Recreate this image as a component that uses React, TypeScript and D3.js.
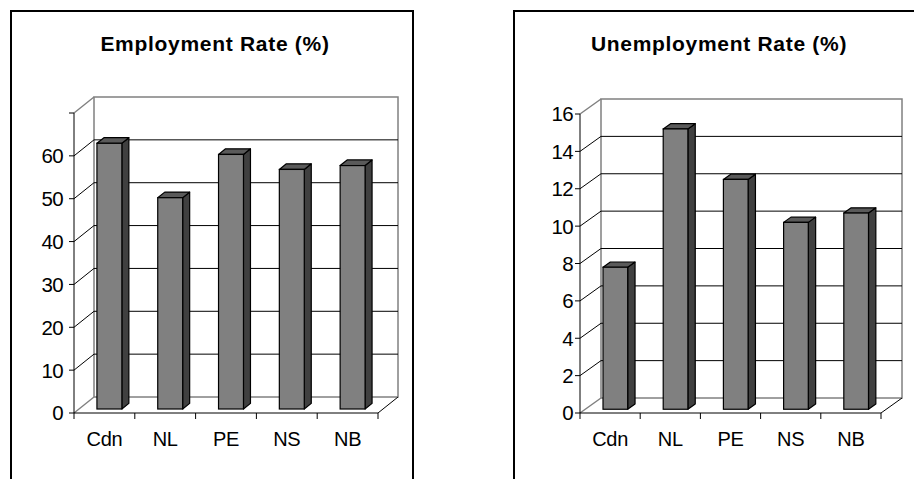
import React from "react";
import * as d3 from "d3";

const categories = ["Cdn", "NL", "PE", "NS", "NB"];
const employmentValues = [62, 49.3, 59.4, 55.9, 56.8];
const unemploymentValues = [7.6, 15.0, 12.3, 10.0, 10.5];
const employmentTicks = [0, 10, 20, 30, 40, 50, 60, 70];
const employmentTickLabels = ["0", "10", "20", "30", "40", "50", "60", ""];
const unemploymentTicks = [0, 2, 4, 6, 8, 10, 12, 14, 16];
const unemploymentTickLabels = ["0", "2", "4", "6", "8", "10", "12", "14", "16"];

const FONT = "Arial, 'Liberation Sans', sans-serif";

type ChartProps = {
  title: string;
  values: number[];
  ticks: number[];
  tickLabels: string[];
  box: { x: number; y: number; w: number; h: number };
  titleX: number;
  x0: number;
  x1: number;
  yBase: number;
  yTop: number;
  dx: number;
  dy: number;
  labelGap: number;
};

function Chart3D(p: ChartProps) {
  const max = p.ticks[p.ticks.length - 1];
  const y = d3.scaleLinear().domain([0, max]).range([p.yBase, p.yTop]);
  const x = d3
    .scaleBand<string>()
    .domain(categories)
    .range([p.x0, p.x1])
    .paddingInner(0.59)
    .paddingOuter(0.295);
  const step = x.step();
  const f0 = 0.25;
  const fd = 0.35;
  const ox = p.dx * f0;
  const oy = -p.dy * f0;
  const sx = p.dx * fd;
  const sy = -p.dy * fd;
  const bx0 = p.x0 + p.dx;
  const bx1 = p.x1 + p.dx;
  const gray = "#808080";

  return (
    <g>
      <rect x={p.box.x} y={p.box.y} width={p.box.w} height={p.box.h} fill="white" stroke="black" strokeWidth={2} />
      <text x={p.titleX} y={51} textAnchor="middle" fontFamily={FONT} fontWeight="bold" fontSize={21} letterSpacing={0.7}>
        {p.title}
      </text>
      {/* back wall frame */}
      <rect x={bx0} y={y(max) - p.dy} width={bx1 - bx0} height={y(0) - y(max)} fill="white" stroke={gray} strokeWidth={1.5} />
      {/* grid lines on back wall and side wall */}
      {p.ticks.slice(1, -1).map((t) => (
        <g key={"g" + t}>
          <line x1={bx0} x2={bx1} y1={y(t) - p.dy} y2={y(t) - p.dy} stroke="black" strokeWidth={1} />
          <line x1={p.x0} x2={bx0} y1={y(t)} y2={y(t) - p.dy} stroke="black" strokeWidth={1} />
        </g>
      ))}
      {/* side wall and floor edges */}
      <line x1={p.x0} x2={bx0} y1={y(max)} y2={y(max) - p.dy} stroke={gray} strokeWidth={1.5} />
      <line x1={p.x0} x2={bx0} y1={y(0)} y2={y(0) - p.dy} stroke={gray} strokeWidth={1.5} />
      <line x1={p.x1} x2={bx1} y1={y(0)} y2={y(0) - p.dy} stroke="black" strokeWidth={1} />
      {/* bars */}
      {categories.map((c, i) => {
        const v = p.values[i];
        const left = (x(c) as number) + ox;
        const right = left + x.bandwidth();
        const top = y(v) + oy;
        const bottom = y(0) + oy;
        const side = `M${right},${bottom} L${right + sx},${bottom + sy} L${right + sx},${top + sy} L${right},${top} Z`;
        const cap = `M${left},${top} L${left + sx},${top + sy} L${right + sx},${top + sy} L${right},${top} Z`;
        return (
          <g key={c}>
            <path d={side} fill="#404040" stroke="black" strokeWidth={1.2} strokeLinejoin="round" />
            <path d={cap} fill="#5a5a5a" stroke="black" strokeWidth={1.2} strokeLinejoin="round" />
            <rect x={left} y={top} width={right - left} height={bottom - top} fill="#808080" stroke="black" strokeWidth={1.2} />
          </g>
        );
      })}
      {/* axes */}
      <line x1={p.x0} x2={p.x0} y1={y(max)} y2={y(0)} stroke="black" strokeWidth={1} />
      <line x1={p.x0} x2={p.x1} y1={y(0)} y2={y(0)} stroke="black" strokeWidth={1} />
      {p.ticks.map((t, i) => (
        <g key={"t" + t}>
          <line x1={p.x0 - 5} x2={p.x0} y1={y(t)} y2={y(t)} stroke="black" strokeWidth={1} />
          <text x={p.x0 - p.labelGap} y={y(t)} dy="0.36em" textAnchor="end" fontFamily={FONT} fontSize={20.5} letterSpacing={-0.6}>
            {p.tickLabels[i]}
          </text>
        </g>
      ))}
      {d3.range(categories.length + 1).map((i) => (
        <line key={"xt" + i} x1={p.x0 + i * step} x2={p.x0 + i * step} y1={y(0)} y2={y(0) + 6} stroke="black" strokeWidth={1} />
      ))}
      {categories.map((c) => (
        <text key={"l" + c} x={(x(c) as number) + x.bandwidth() / 2} y={446} textAnchor="middle" fontFamily={FONT} fontSize={20} letterSpacing={-0.3}>
          {c}
        </text>
      ))}
    </g>
  );
}

export default function App() {
  return (
    <svg width={914} height={479} style={{ position: "absolute", left: 0, top: 0, background: "white" }}>
      <rect x={0} y={0} width={914} height={479} fill="white" />
      <Chart3D
        title="Employment Rate (%)"
        values={employmentValues}
        ticks={employmentTicks}
        tickLabels={employmentTickLabels}
        box={{ x: 11, y: 11, w: 402, h: 480 }}
        titleX={215}
        x0={74}
        x1={378}
        yBase={413}
        yTop={113}
        dx={20}
        dy={16}
        labelGap={11}
      />
      <Chart3D
        title="Unemployment Rate (%)"
        values={unemploymentValues}
        ticks={unemploymentTicks}
        tickLabels={unemploymentTickLabels}
        box={{ x: 514, y: 11, w: 404, h: 480 }}
        titleX={719}
        x0={580}
        x1={881}
        yBase={413}
        yTop={114}
        dx={21}
        dy={15}
        labelGap={7}
      />
    </svg>
  );
}
